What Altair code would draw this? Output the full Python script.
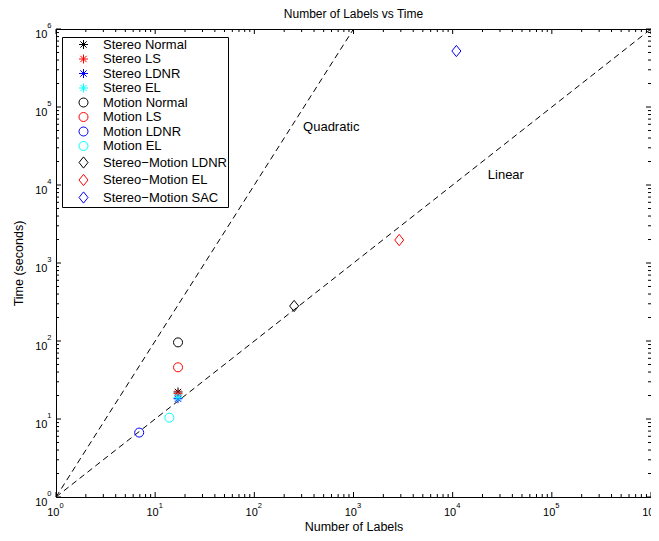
import altair as alt
import pandas as pd

# ---- data ----
series_names = [
    "Stereo Normal", "Stereo LS", "Stereo LDNR", "Stereo EL",
    "Motion Normal", "Motion LS", "Motion LDNR", "Motion EL",
    "Stereo−Motion LDNR", "Stereo−Motion EL", "Stereo−Motion SAC",
]
num_labels = [17, 17, 17, 17, 17, 17, 6.9, 13.9, 252, 2890, 10900]
time_sec = [22.2, 21.1, 18.2, 19.0, 96, 46, 6.7, 10.4, 281, 1970, 522000]
series_colors = ["#000000", "#ff0000", "#0000ff", "#00ffff",
                 "#000000", "#ff0000", "#0000ff", "#00ffff",
                 "#000000", "#ff0000", "#0000ff"]
STAR = "M0,-1L0,1M-1,0L1,0M-0.7,-0.7L0.7,0.7M-0.7,0.7L0.7,-0.7"
DIAM = "M0,-1.25L1,0L0,1.25L-1,0Z"
series_shapes = [STAR] * 4 + ["circle"] * 4 + [DIAM] * 3

linear_x = [1, 1e6]
linear_y = [1, 1e6]
quad_x = [1, 1e3]
quad_y = [1, 1e6]

annot_text = ["Quadratic", "Linear"]
annot_x = [310, 22600]
annot_y = [55400, 13400]

major_ticks = [1, 10, 100, 1e3, 1e4, 1e5, 1e6]
exponents = ["0", "1", "2", "3", "4", "5", "6"]
minor_ticks = [m * 10 ** k for k in range(6) for m in range(2, 10)]

W, H = 595, 468
FONT = "Liberation Sans"

xs = alt.Scale(type="log", domain=[1, 1e6], nice=False)
ys = alt.Scale(type="log", domain=[1, 1e6], nice=False)

pts = pd.DataFrame({"series": series_names, "x": num_labels, "y": time_sec,
                    "idx": list(range(len(series_names)))})

points = alt.Chart(pts).mark_point(filled=False, size=81, strokeWidth=1, opacity=1).encode(
    x=alt.X("x:Q", scale=xs,
            axis=alt.Axis(values=major_ticks, labelExpr="'10'", ticks=False, tickSize=0,
                          domain=False, grid=False, title="Number of Labels",
                          labelAlign="right", labelOffset=3, labelBaseline="alphabetic",
                          labelPadding=18, titleX=W / 2, titleY=29.5, titleBaseline="middle")),
    y=alt.Y("y:Q", scale=ys,
            axis=alt.Axis(values=major_ticks, labelExpr="'10'", ticks=False, tickSize=0,
                          domain=False, grid=False, title="Time (seconds)",
                          labelAlign="right", labelBaseline="alphabetic", labelOffset=8.5,
                          labelPadding=9, titleX=-38, titleY=H / 2, titleBaseline="middle")),
    color=alt.Color("series:N", scale=alt.Scale(domain=series_names, range=series_colors),
                    legend=alt.Legend(title=None, orient="none", legendX=6, legendY=8)),
    shape=alt.Shape("series:N", scale=alt.Scale(domain=series_names, range=series_shapes)),
    order=alt.Order("idx:Q"),
)

lin = pd.DataFrame({"x": linear_x, "y": linear_y})
quad = pd.DataFrame({"x": quad_x, "y": quad_y})
line_lin = alt.Chart(lin).mark_line(color="black", strokeWidth=1, strokeDash=[6, 4]).encode(
    x=alt.X("x:Q", scale=xs), y=alt.Y("y:Q", scale=ys))
line_quad = alt.Chart(quad).mark_line(color="black", strokeWidth=1, strokeDash=[6, 4]).encode(
    x=alt.X("x:Q", scale=xs), y=alt.Y("y:Q", scale=ys))

ann = pd.DataFrame({"t": annot_text, "x": annot_x, "y": annot_y})
texts = alt.Chart(ann).mark_text(align="left", baseline="middle", fontSize=13, font=FONT,
                                  color="black").encode(
    x=alt.X("x:Q", scale=xs), y=alt.Y("y:Q", scale=ys), text="t:N")

# exponent superscripts for the tick labels
expd = pd.DataFrame({"v": major_ticks, "e": exponents})
x_exp = alt.Chart(expd).mark_text(align="left", baseline="alphabetic", fontSize=7.5, font=FONT,
                                   color="black", dx=3.5, dy=10.5).encode(
    x=alt.X("v:Q", scale=xs), y=alt.value(H), text="e:N")
y_exp = alt.Chart(expd).mark_text(align="left", baseline="alphabetic", fontSize=7.5, font=FONT,
                                   color="black", dx=0, dy=-1).encode(
    y=alt.Y("v:Q", scale=ys), x=alt.value(-8.7), text="e:N")


def make_ticks():
    layers = []
    for L, vals in ((5, major_ticks), (3, minor_ticks)):
        d = pd.DataFrame({"v": vals})
        r = alt.Chart(d).mark_rule(color="black", strokeWidth=1)
        layers.append(r.encode(x=alt.X("v:Q", scale=xs), y=alt.value(H), y2=alt.value(H - L)))
        layers.append(r.encode(x=alt.X("v:Q", scale=xs), y=alt.value(0), y2=alt.value(L)))
        layers.append(r.encode(y=alt.Y("v:Q", scale=ys), x=alt.value(0), x2=alt.value(L)))
        layers.append(r.encode(y=alt.Y("v:Q", scale=ys), x=alt.value(W), x2=alt.value(W - L)))
    return layers


chart = alt.layer(line_lin, line_quad, *make_ticks(), texts, x_exp, y_exp, points).properties(
    width=W, height=H,
    title=alt.TitleParams("Number of Labels vs Time", fontSize=12, fontWeight="normal",
                          font=FONT, offset=1, color="black"),
    autosize=alt.AutoSizeParams(type="none"),
    padding={"left": 48, "top": 21, "right": 0, "bottom": 36},
).configure_view(stroke="black", strokeWidth=1).configure_axis(
    labelFont=FONT, labelFontSize=11, labelColor="black", titleFont=FONT, titleFontSize=12.5,
    titleFontWeight="normal", titleColor="black",
).configure_legend(
    labelFont=FONT, labelFontSize=13, labelColor="black", strokeColor="black", fillColor="white",
    padding=1, symbolSize=81, symbolStrokeWidth=1, symbolOffset=14, labelOffset=13,
    rowPadding=0.5,
)

chart.save("out.html", embed_options={"renderer": "svg", "actions": False})
